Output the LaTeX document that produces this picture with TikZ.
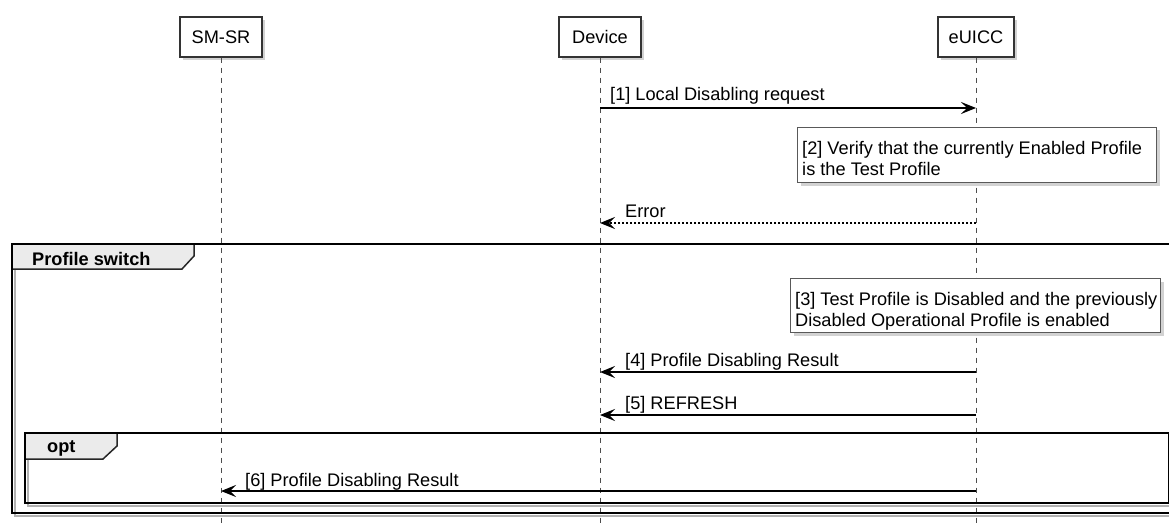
\documentclass[tikz,border=0pt]{standalone}
\usepackage{fontspec}
\setmainfont{Liberation Sans}
\usetikzlibrary{arrows.meta,shadows}
\begin{document}
\begin{tikzpicture}[x=1pt,y=1pt,
  every node/.style={font=\fontsize{18.2}{21}\selectfont},
  participant/.style={draw=black!80, line width=1.3pt, fill=white, minimum height=40pt, inner sep=0pt,
    drop shadow={shadow xshift=3pt,shadow yshift=-3pt,fill=black!35,draw=none}},
  lifeline/.style={draw=black!70, line width=1pt, dash pattern=on 5pt off 5pt},
  msg/.style={draw=black, line width=1.2pt, -{Stealth[length=15pt,width=12pt,inset=6pt]}},
  ret/.style={msg, dash pattern=on 2pt off 2pt},
  lbl/.style={anchor=base west, inner sep=0pt},
  notebox/.style={draw=black!65, line width=1pt, fill=white, inner sep=0pt, anchor=north west,
    drop shadow={shadow xshift=3pt,shadow yshift=-3pt,fill=black!35,draw=none}},
  notetext/.style={anchor=north west, align=left, inner sep=0pt},
  frameline/.style={draw=black, line width=2.8pt},
  frameshadow/.style={draw=black!30, line width=2.8pt},
  tab/.style={fill=black!8, draw=black!85, line width=1.5pt},
  tablbl/.style={anchor=base west, inner sep=0pt, font=\fontsize{18.2}{21}\selectfont\bfseries}
]
\useasboundingbox (0,0) rectangle (1169,-524);
\fill[white] (0,0) rectangle (1169,-524);

% participants
\node[participant, minimum width=82pt] (smsr) at (221,-37) {SM-SR};
\node[participant, minimum width=82pt] (dev) at (600,-37) {Device};
\node[participant, minimum width=76pt] (euicc) at (976,-37) {eUICC};

\coordinate (bot) at (0,-526);
\draw[lifeline] (smsr.south) -- (smsr.south |- bot);
\draw[lifeline] (dev.south) -- (dev.south |- bot);
\draw[lifeline] (euicc.south) -- (euicc.south |- bot);

% y levels
\coordinate (y1) at (0,-108);
\coordinate (y2) at (0,-223);
\coordinate (y4) at (0,-372);
\coordinate (y5) at (0,-415);
\coordinate (y6) at (0,-491);

% frames (shadows)
\draw[frameshadow] (15,-247) -- (15,-516) -- (1190,-516);
\draw[frameshadow] (28,-436) -- (28,-506) -- (1172,-506);

% outer frame
\draw[tab] (12,-244) -- (194,-244) -- (194,-256) -- (182,-269) -- (12,-269) -- cycle;
\draw[frameline] (12,-244) rectangle (1186,-513);
\node[tablbl] (fr1) at (32,-265) {Profile switch};

% opt frame
\draw[tab] (25,-433) -- (117,-433) -- (117,-446) -- (103,-459) -- (25,-459) -- cycle;
\draw[frameline] (25,-433) rectangle (1169.5,-503);
\node[tablbl] (fr2) at (47,-452) {opt};

% messages
\draw[msg] (dev |- y1) -- (euicc |- y1);
\node[lbl] (l1) at (610,-101) {[1] Local Disabling request};

\node[notebox, minimum width=359pt, minimum height=55pt] (n2) at (797,-127) {};
\node[notetext] (n2t) at (802,-141) {[2] Verify that the currently Enabled Profile\\is the Test Profile};

\draw[ret] (euicc |- y2) -- (dev |- y2);
\node[lbl] (l2) at (625,-217) {Error};

\node[notebox, minimum width=370pt, minimum height=54pt] (n3) at (790,-278) {};
\node[notetext] (n3t) at (795,-292) {[3] Test Profile is Disabled and the previously\\Disabled Operational Profile is enabled};

\draw[msg] (euicc |- y4) -- (dev |- y4);
\node[lbl] (l4) at (625,-366) {[4] Profile Disabling Result};

\draw[msg] (euicc |- y5) -- (dev |- y5);
\node[lbl] (l5) at (625,-409) {[5] REFRESH};

\draw[msg] (euicc |- y6) -- (smsr |- y6);
\node[lbl] (l6) at (245,-486) {[6] Profile Disabling Result};
\end{tikzpicture}
\end{document}
